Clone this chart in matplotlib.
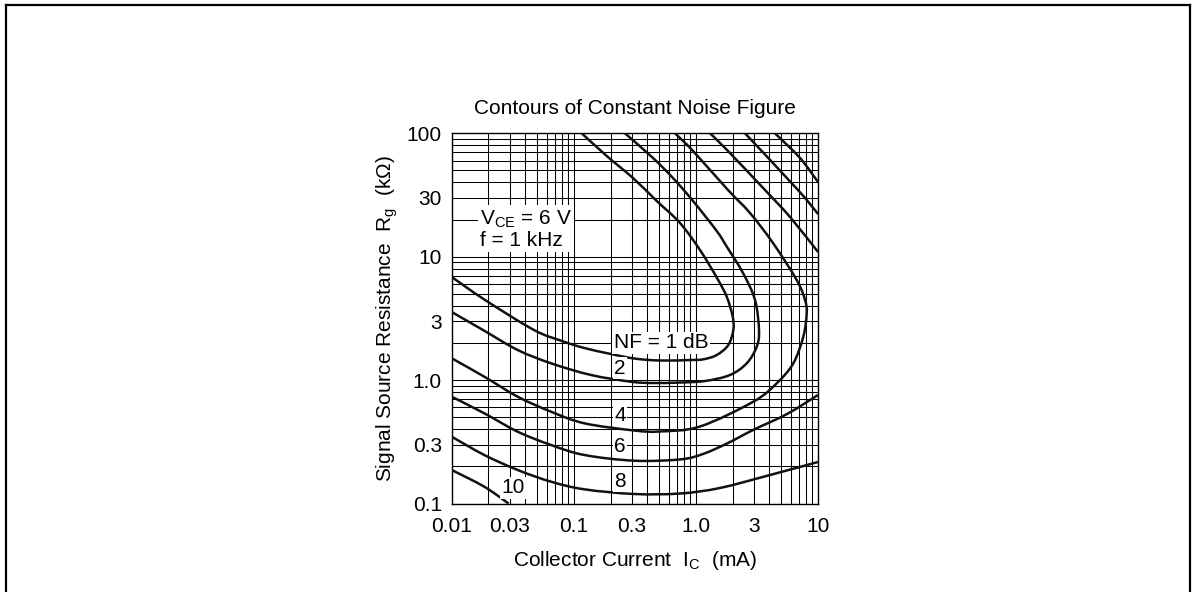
import matplotlib
matplotlib.use("Agg")
import numpy as np
import matplotlib.pyplot as plt
from matplotlib.ticker import LogLocator, NullFormatter, FixedLocator, FixedFormatter
from matplotlib.lines import Line2D
from matplotlib.path import Path
from matplotlib.patches import PathPatch

plt.rcParams['font.family'] = ['Liberation Sans', 'DejaVu Sans']

# collector current Ic (mA) and source resistance Rg (kOhm)
nf1_ic = [0.1161, 0.186, 0.3054, 0.4775, 0.741, 1.08, 1.489, 1.788, 2.002, 2.025, 1.843,
          1.481, 1.150, 0.9118, 0.508, 0.313, 0.2017, 0.1219, 0.0801, 0.0472, 0.01874, 0.01]
nf1_rg = [100, 65.5, 43.4, 28.3, 18.76, 11.33, 6.72, 4.741, 3.265, 2.547, 1.925,
          1.597, 1.474, 1.455, 1.441, 1.496, 1.627, 1.82, 2.074, 2.547, 4.46, 6.85]

nf2_ic = [0.2626, 0.4453, 0.6493, 0.947, 1.481, 1.798, 2.431, 3.048, 3.287, 3.148, 2.607, 1.902,
          1.187, 0.741, 0.4453, 0.2941, 0.1383, 0.0651, 0.0347, 0.01804, 0.01]
nf2_rg = [100, 63.1, 43.4, 28.3, 16.15, 11.98, 7.38, 4.46, 2.547, 1.865, 1.368, 1.100,
          0.9833, 0.956, 0.947, 0.9705, 1.100, 1.368, 1.754, 2.547, 3.564]

nf4_ic = [0.6743, 0.947, 1.832, 2.774, 4.28, 6.693, 7.827, 8.08, 7.578, 6.277, 4.590, 2.952,
          1.080, 0.508, 0.313, 0.1219, 0.0651, 0.0347, 0.01849, 0.01]
nf4_rg = [100, 71.9, 34.7, 22.6, 12.91, 6.475, 4.46, 3.477, 2.247, 1.368, 0.9419, 0.6683,
          0.4207, 0.3835, 0.3904, 0.4467, 0.5546, 0.7335, 1.066, 1.502]

nf6_ic = [0.01, 0.01849, 0.0347, 0.0651, 0.1219, 0.313, 0.741, 1.143, 1.832, 2.936, 5.57, 10]
nf6_rg = [0.7335, 0.5383, 0.3818, 0.2979, 0.2472, 0.2222, 0.2275, 0.2519, 0.3092, 0.394,
          0.531, 0.757]
nf6_hi_ic = [1.305, 1.832, 3.681, 5.90, 10]
nf6_hi_rg = [100, 71.9, 34.7, 20.98, 10.92]

nf8_ic = [0.01, 0.01849, 0.0347, 0.0651, 0.1219, 0.313, 0.741, 1.576, 4.045, 10]
nf8_rg = [0.3478, 0.2472, 0.1869, 0.1502, 0.1303, 0.1194, 0.1205, 0.1336, 0.1702, 0.2169]
nf8_hi_ic = [2.524, 6.86, 10]
nf8_hi_rg = [100, 34.7, 22.2]

nf10_ic = [0.01, 0.01849, 0.0292]
nf10_rg = [0.1869, 0.1368, 0.1]
nf10_hi_ic = [4.44, 7.12, 10]
nf10_hi_rg = [100, 63.1, 40.3]

curves = [(nf1_ic, nf1_rg), (nf2_ic, nf2_rg), (nf4_ic, nf4_rg),
          (nf6_ic, nf6_rg), (nf6_hi_ic, nf6_hi_rg),
          (nf8_ic, nf8_rg), (nf8_hi_ic, nf8_hi_rg),
          (nf10_ic, nf10_rg), (nf10_hi_ic, nf10_hi_rg)]

x_ticks = [0.01, 0.03, 0.1, 0.3, 1.0, 3, 10]
x_labels = ["0.01", "0.03", "0.1", "0.3", "1.0", "3", "10"]
y_ticks = [0.1, 0.3, 1.0, 3, 10, 30, 100]
y_labels = ["0.1", "0.3", "1.0", "3", "10", "30", "100"]

# curve labels: text, Ic, Rg
nf_labels = [("NF = 1 dB", 0.52, 2.0), ("2", 0.239, 1.25), ("4", 0.239, 0.521),
             ("6", 0.239, 0.292), ("8", 0.239, 0.152), ("10", 0.0318, 0.134)]


def smooth_path(xs, ys):
    # draw the read points as a smooth curve (Catmull-Rom as Bezier, in log space)
    p = np.column_stack([np.log10(xs), np.log10(ys)])
    e = np.vstack([p[0], p, p[-1]])
    verts = [p[0]]
    codes = [Path.MOVETO]
    for i in range(len(p) - 1):
        p0, p1, p2, p3 = e[i], e[i + 1], e[i + 2], e[i + 3]
        verts += [p1 + (p2 - p0) / 6, p2 - (p3 - p1) / 6, p2]
        codes += [Path.CURVE4] * 3
    return Path(10 ** np.array(verts), codes)


W, H = 1195, 592
fig = plt.figure(figsize=(W / 100, H / 100), dpi=100)
ax = fig.add_axes([451.7 / W, 1 - 503.5 / H, (818 - 451.7) / W, (503.5 - 133.3) / H])
ax.set_xscale("log")
ax.set_yscale("log")
ax.set_xlim(0.01, 10)
ax.set_ylim(0.1, 100)

ax.xaxis.set_major_locator(FixedLocator(x_ticks))
ax.xaxis.set_major_formatter(FixedFormatter(x_labels))
ax.yaxis.set_major_locator(FixedLocator(y_ticks))
ax.yaxis.set_major_formatter(FixedFormatter(y_labels))
ax.xaxis.set_minor_locator(LogLocator(base=10, subs=range(2, 10), numticks=20))
ax.yaxis.set_minor_locator(LogLocator(base=10, subs=range(2, 10), numticks=20))
ax.xaxis.set_minor_formatter(NullFormatter())
ax.yaxis.set_minor_formatter(NullFormatter())
ax.tick_params(which="both", length=0, labelsize=15)
ax.tick_params(axis="x", pad=10)
ax.tick_params(axis="y", pad=7)
ax.grid(which="both", color="black", lw=0.75)
ax.set_axisbelow(True)
for s in ax.spines.values():
    s.set_linewidth(1.0)

for ic, rg in curves:
    ax.add_patch(PathPatch(smooth_path(ic, rg), fill=False, edgecolor="#111111",
                           lw=1.8, capstyle="butt", zorder=3))

for txt, xi, yi in nf_labels:
    ax.text(xi, yi, txt, fontsize=15, ha="center", va="center", zorder=5,
            bbox=dict(facecolor="white", edgecolor="none", pad=1.0))

ax.text(0.01706, 16.8, "V$_\\mathregular{CE}$ = 6 V\nf = 1 kHz", fontsize=15,
        ha="left", va="center", linespacing=1.05, zorder=5,
        bbox=dict(facecolor="white", edgecolor="none", pad=1.5))

ax.set_title("Contours of Constant Noise Figure", fontsize=15, pad=14)
ax.set_xlabel("Collector Current  I$_\\mathregular{C}$  (mA)", fontsize=15, labelpad=9)
ax.set_ylabel("Signal Source Resistance  R$_\\mathregular{g}$  (k\u03a9)", fontsize=15, labelpad=5)

# page frame
fx0, fx1, fy1 = 6 / W, 1190 / W, 1 - 5 / H
fig.add_artist(Line2D([fx0, fx0], [0, fy1], transform=fig.transFigure, color="black", lw=1.6))
fig.add_artist(Line2D([fx0, fx1], [fy1, fy1], transform=fig.transFigure, color="black", lw=1.6))
fig.add_artist(Line2D([fx1, fx1], [0, fy1], transform=fig.transFigure, color="black", lw=1.6))

fig.savefig("out.png", dpi=100)
